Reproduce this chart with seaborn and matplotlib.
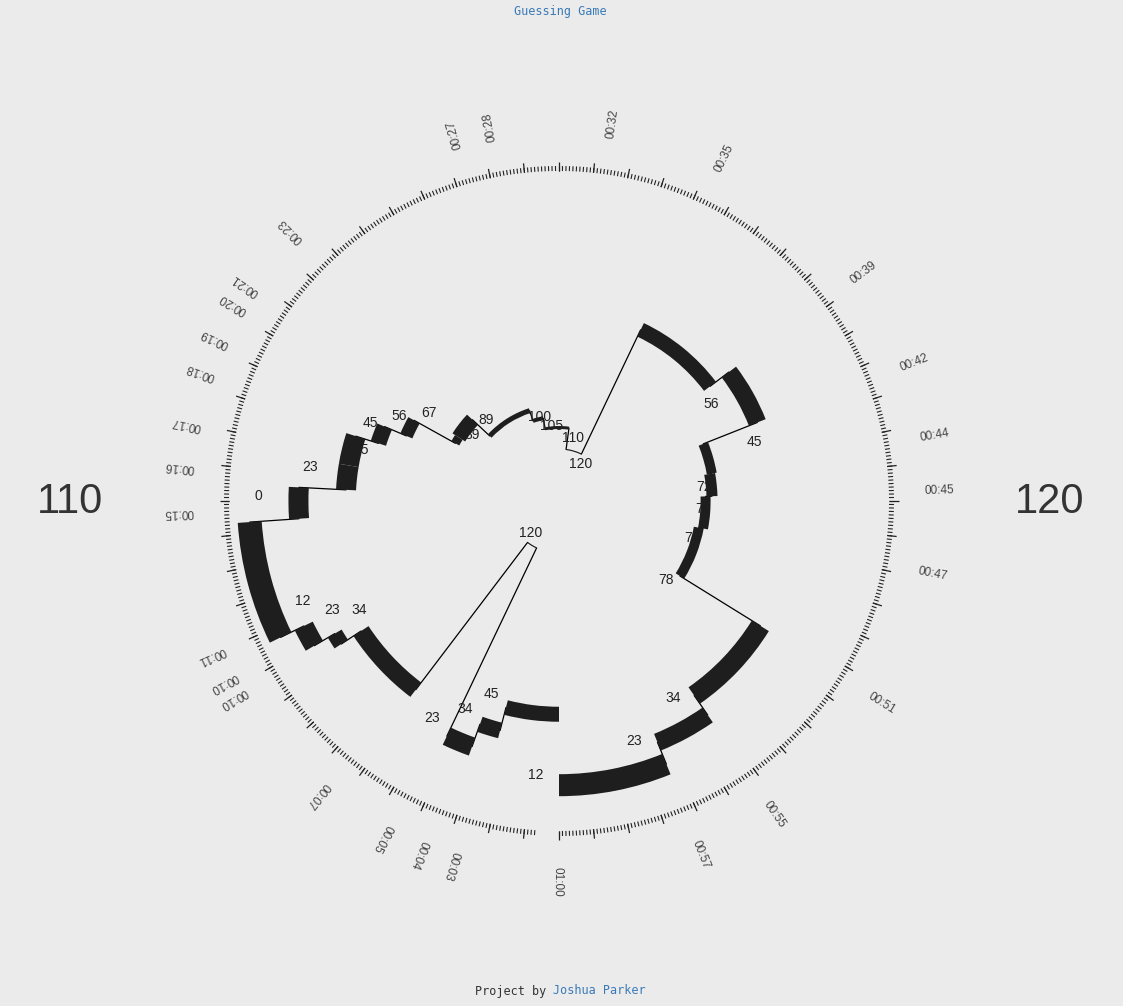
import numpy as np
import pandas as pd
import matplotlib
matplotlib.use('Agg')
import matplotlib.pyplot as plt
import seaborn as sns

# 每次猜测的起止时间 (秒)，第 i 次猜测从 guess_times[i] 持续到 guess_times[i+1]
guess_times = [0.0, 2.4, 3.25, 4.25, 6.2, 9.45, 9.9, 10.65, 14.35, 15.5, 16.6,
               17.95, 18.85, 19.85, 20.4, 22.2, 27.0, 28.2, 31.3, 34.25, 38.8,
               41.4, 43.3, 44.7, 46.8, 50.3, 54.2, 56.3, 60.0]
guess_values = [45, 34, 23, 120, 34, 23, 12, 0, 23, 45, 45, 56, 67, 89, 89,
                100, 105, 110, 120, 56, 45, 72, 73, 76, 78, 34, 23, 12]
guess_weight = [15, 16, 19, 1.2, 18, 16, 20, 24, 20, 20, 20, 16, 13, 9, 15,
                5, 4, 3, 1.2, 15, 18, 10, 11, 10, 10, 20, 18, 22]
time_labels = ["00:03", "00:04", "00:05", "00:07", "00:10", "00:10", "00:11",
               "00:15", "00:16", "00:17", "00:18", "00:19", "00:20", "00:21",
               "00:23", "00:27", "00:28", "00:32", "00:35", "00:39", "00:42",
               "00:44", "00:45", "00:47", "00:51", "00:55", "00:57", "01:00"]
side_left, side_right = "110", "120"

BG = '#ebebeb'
INK = '#1e1e1e'
BLUE = '#3a7ab8'


def r_scale(v):
    # value 0..120 -> radius in px (0 outside, 120 near centre)
    return 310 - (310 - 52) * np.asarray(v, dtype=float) / 120


def t_scale(t):
    return np.asarray(t, dtype=float) / 60 * 2 * np.pi


sns.set_theme(style='white', rc={'figure.facecolor': BG, 'axes.facecolor': BG})
plt.rcParams['font.family'] = ['Liberation Sans', 'DejaVu Sans']

fig = plt.figure(figsize=(11.23, 10.06), dpi=100)
fig.patch.set_facecolor(BG)
ax = fig.add_axes([159 / 1123, 105 / 1006, 800 / 1123, 800 / 1006], projection='polar')
ax.set_theta_zero_location('S')
ax.set_theta_direction(-1)

seg = pd.DataFrame({'t0': guess_times[:-1], 't1': guess_times[1:],
                    'value': guess_values, 'weight': guess_weight})
seg['r'] = r_scale(seg['value'])

# radial connectors between consecutive guesses
conn = pd.DataFrame({
    'theta': np.repeat(t_scale(guess_times[1:-1]), 2),
    'radius': np.column_stack([seg['r'].values[:-1], seg['r'].values[1:]]).ravel(),
    'step': np.repeat(np.arange(len(guess_times) - 2), 2),
})
sns.lineplot(data=conn, x='theta', y='radius', units='step', estimator=None,
             sort=False, color='black', lw=0.9, ax=ax, zorder=2)

# value labels (under the bands)
for _, s in seg.iterrows():
    ax.text(t_scale(s.t1 + 0.8), s.r - 9, str(int(s.value)), ha='center',
            va='center', fontsize=10, color='#222222', zorder=2)

# thick bands
ax.bar(t_scale(seg['t0']), seg['weight'], width=t_scale(seg['t1'] - seg['t0']),
       bottom=seg['r'] - seg['weight'] / 2, align='edge', color=INK,
       edgecolor='none', zorder=3)

# outer time ring
minor = np.arange(7, 601) / 10
major = minor[np.isclose(minor % 1, 0)]
ax.vlines(t_scale(minor), 330, 335, color='#222222', lw=0.8)
ax.vlines(t_scale(major), 330, 339.5, color='#222222', lw=0.9)

for t, lab in zip(guess_times[1:], time_labels):
    shift = 0.35 if t < 27.5 else 0.05
    ang = (-90 - 6 * (t + shift)) % 360
    ax.text(t_scale(t + shift), 366, lab, rotation=ang, rotation_mode='anchor',
            ha='left', va='center', fontsize=8.5, color='#444444')

ax.set_ylim(0, 400)
ax.set_axis_off()

fig.text(70 / 1123, 1 - 502 / 1006, side_left, fontsize=30, ha='center',
         va='center', color='#333333')
fig.text(1050 / 1123, 1 - 502 / 1006, side_right, fontsize=30, ha='center',
         va='center', color='#333333')

fig.text(560 / 1123, 1 - 12 / 1006, 'Guessing Game', family='DejaVu Sans Mono',
         fontsize=8.5, color=BLUE, ha='center', va='center')
fig.text(546 / 1123, 1 - 991 / 1006, 'Project by', family='DejaVu Sans Mono',
         fontsize=8.5, color='#333333', ha='right', va='center')
fig.text(553 / 1123, 1 - 991 / 1006, 'Joshua Parker', family='DejaVu Sans Mono',
         fontsize=8.5, color=BLUE, ha='left', va='center')

fig.savefig('out.png', dpi=100, facecolor=fig.get_facecolor())
